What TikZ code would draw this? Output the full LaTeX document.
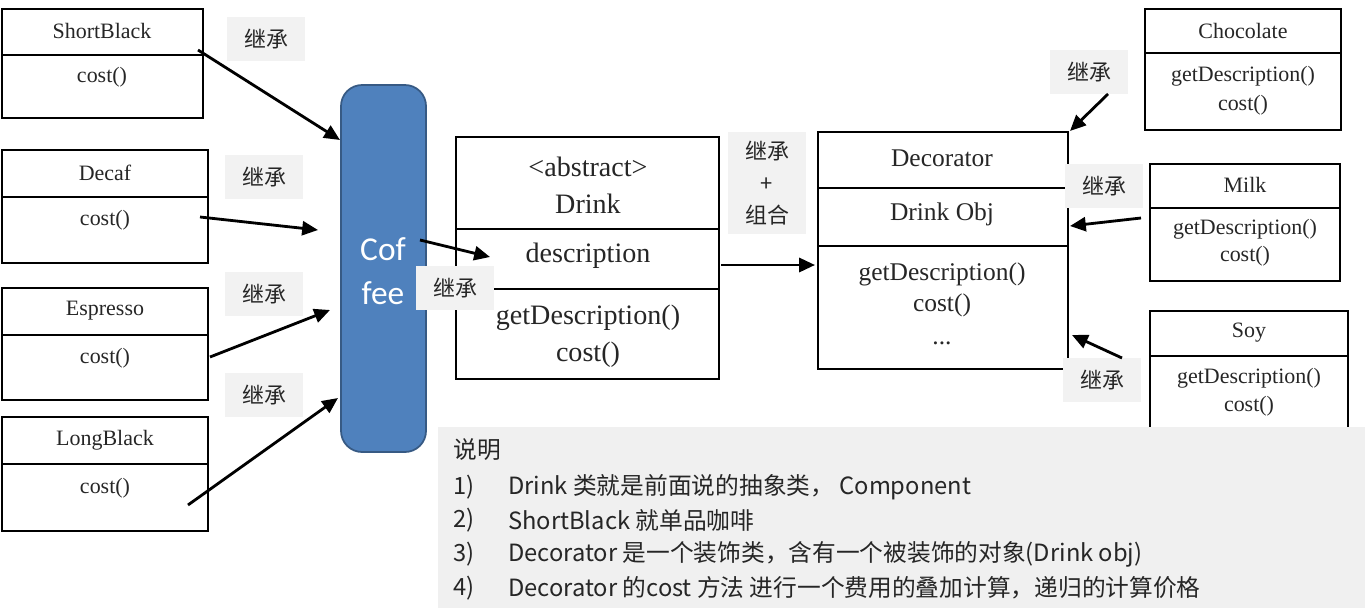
\documentclass[tikz,border=0pt]{standalone}
\usepackage{fontspec}
\setmainfont{Liberation Serif}
\newfontfamily\cjk{Noto Sans CJK SC}
\newfontfamily\calib{Carlito}
\usetikzlibrary{arrows.meta,positioning}
\definecolor{coffeeblue}{HTML}{4F81BD}
\definecolor{labelgray}{HTML}{F2F2F2}
\definecolor{panelgray}{HTML}{F0F0F0}
\definecolor{inktext}{HTML}{262626}

% box with a title row and a body row
\newcommand{\umlbox}[5]{%
  \draw[line width=1.3pt] (#1,#2) rectangle (#3,#4);
  \draw[line width=1.3pt] (#1,#5) -- (#3,#5);}

\begin{document}
\begin{tikzpicture}[x=0.02cm,y=-0.02cm,
  txt/.style={font=\fontsize{12.5pt}{14pt}\selectfont, text=inktext, inner sep=0pt},
  bigtxt/.style={font=\fontsize{16pt}{18pt}\selectfont, text=inktext, inner sep=0pt},
  midtxt/.style={font=\fontsize{14.5pt}{17pt}\selectfont, text=inktext, inner sep=0pt},
  tag/.style={fill=labelgray, font=\cjk\fontsize{12.5pt}{16pt}\selectfont, text=inktext,
    minimum width=1.55cm, minimum height=0.88cm, inner sep=0pt, align=center},
  inherit/.style={-{Triangle[length=9pt,width=8pt]}, line width=1.6pt}
]
\useasboundingbox (0,0) rectangle (1365,608);
% ── concrete coffees ─────────────────────────────
\umlbox{2}{9}{203}{118}{55}
\node[txt] (sb) at (102,31) {ShortBlack};
\node[txt] (sbc) at (102,77) {cost()};
\umlbox{2}{150}{208}{263}{197}
\node[txt] (df) at (105,173) {Decaf};
\node[txt] (dfc) at (105,220) {cost()};
\umlbox{2}{288}{208}{400}{335}
\node[txt] (es) at (105,311) {Espresso};
\node[txt] (esc) at (105,358) {cost()};
\umlbox{2}{417}{208}{531}{464}
\node[txt] (lb) at (105,440) {LongBlack};
\node[txt] (lbc) at (105,488) {cost()};
\node[tag] (t1) at (266,39) {继承};
\node[tag] (t2) at (264,177) {继承};
\node[tag] (t3) at (264,294) {继承};
\node[tag] (t4) at (264,395) {继承};
% ── Coffee ───────────────────────────────────────
\draw[fill=coffeeblue, draw=coffeeblue!70!black, line width=1pt, rounded corners=12pt]
  (341,85) rectangle (426,452);
\node[font=\calib\fontsize{19pt}{25pt}\selectfont, text=white, align=center] (cof) at (383,271) {Cof\\fee};
% ── Drink ────────────────────────────────────────
\umlbox{456}{137}{719}{379}{229}
\draw[line width=1.3pt] (456,289) -- (719,289);
\node[bigtxt] (ab) at (588,167) {<abstract>};
\node[bigtxt] (dr) at (588,204) {Drink};
\node[bigtxt] (ds) at (588,256) {description};
\node[bigtxt] (dg) at (588,318) {getDescription()};
\node[bigtxt] (dc) at (588,355) {cost()};
\node[tag] (t5) at (455,288) {继承};
\node[tag, minimum height=2.05cm, font=\cjk\fontsize{12.5pt}{18pt}\selectfont] (t6) at (767,183) {继承\\+\\组合};
% ── Decorator ────────────────────────────────────
\umlbox{818}{132}{1068}{369}{188}
\draw[line width=1.3pt] (818,246) -- (1068,246);
\node[midtxt] (de) at (942,158) {Decorator};
\node[midtxt] (dob) at (942,214) {Drink Obj};
\node[midtxt] (deg) at (942,274) {getDescription()};
\node[midtxt] (dec) at (942,305) {cost()};
\node[midtxt] (ded) at (942,343) {...};
% ── concrete decorators ──────────────────────────
\umlbox{1145}{9}{1341}{130}{53}
\node[txt] (ch) at (1243,31) {Chocolate};
\node[txt] (chg) at (1243,76) {getDescription()};
\node[txt] (chc) at (1243,105) {cost()};
\umlbox{1150}{164}{1340}{281}{208}
\node[txt] (mk) at (1245,185) {Milk};
\node[txt] (mkg) at (1245,229) {getDescription()};
\node[txt] (mkc) at (1245,256) {cost()};
\umlbox{1150}{311}{1348}{440}{356}
\node[txt] (sy) at (1249,333) {Soy};
\node[txt] (syg) at (1249,378) {getDescription()};
\node[txt] (syc) at (1249,406) {cost()};
\node[tag] (t7) at (1089,72) {继承};
\node[tag] (t8) at (1104,186) {继承};
\node[tag] (t9) at (1102,380) {继承};
% ── arrows ───────────────────────────────────────
\draw[inherit] (198,50) -- (340,140);
\draw[inherit] (200,217) -- (318,230);
\draw[inherit] (210,357) -- (330,310);
\draw[inherit] (188,505) -- (338,398);
\draw[inherit] (420,240) -- (490,257);
\draw[inherit] (721,265) -- (815,265);
\draw[inherit] (1108,94) -- (1070,131);
\draw[inherit] (1141,218) -- (1070,226);
\draw[inherit] (1122,358) -- (1072,335);
% ── notes ────────────────────────────────────────
\fill[panelgray] (438,427) rectangle (1365,608);
\begin{scope}[every node/.style={anchor=west, inner sep=0pt, text=inktext,
    font=\cjk\fontsize{13.5pt}{16pt}\selectfont}]
  \node (n0) at (453,450) {说明};
  \node (k1) at (453,487) {1)};
  \node (n1) at (508,487) {Drink 类就是前面说的抽象类， Component};
  \node (k2) at (453,520) {2)};
  \node (n2) at (508,520) {ShortBlack 就单品咖啡};
  \node (k3) at (453,554) {3)};
  \node (n3) at (508,554) {Decorator 是一个装饰类，含有一个被装饰的对象(Drink obj)};
  \node (k4) at (453,588) {4)};
  \node (n4) at (508,588) {Decorator 的cost 方法 进行一个费用的叠加计算，递归的计算价格};
\end{scope}
\end{tikzpicture}
\end{document}
